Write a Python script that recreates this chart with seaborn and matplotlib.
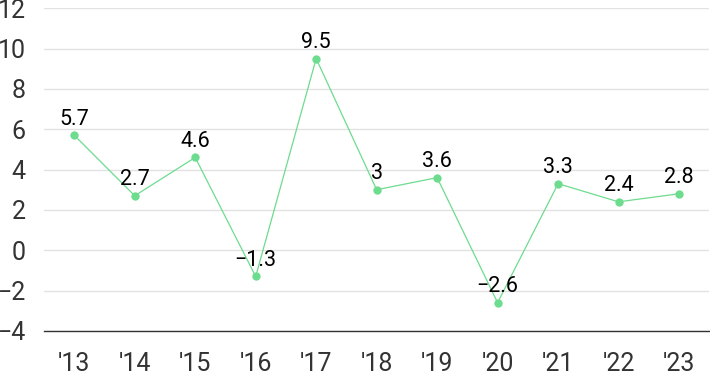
import matplotlib
matplotlib.use('Agg')
import matplotlib.pyplot as plt
import seaborn as sns
import pandas as pd

# data
years = ["'13", "'14", "'15", "'16", "'17", "'18", "'19", "'20", "'21", "'22", "'23"]
values = [5.7, 2.7, 4.6, -1.3, 9.5, 3.0, 3.6, -2.6, 3.3, 2.4, 2.8]
labels = ['5.7', '2.7', '4.6', '-1.3', '9.5', '3', '3.6', '-2.6', '3.3', '2.4', '2.8']

df = pd.DataFrame({'year': years, 'value': values})
df['pos'] = range(len(df))

sns.set_style('white')
plt.rcParams['font.family'] = ['Roboto', 'DejaVu Sans']
plt.rcParams['axes.unicode_minus'] = True

green = '#6ddc8f'

fig = plt.figure(figsize=(7.1, 3.71), dpi=100)
ax = fig.add_axes([0.062, 0.108, 0.937, 0.870])

sns.lineplot(data=df, x='pos', y='value', ax=ax, color=green, linewidth=0.9,
             marker='o', markersize=6, markeredgewidth=0, markerfacecolor=green)

for x, y, t in zip(df['pos'], df['value'], labels):
    ax.annotate(t.replace('-', '\u2212'), (x, y), xytext=(0, 4), textcoords='offset points',
                ha='center', va='bottom', fontsize=15.5, color='#000000')

ax.set_xlim(-0.5, 10.5)
ax.set_ylim(-4, 12)
ax.set_yticks(range(-4, 13, 2))
ax.set_xticks(df['pos'])
ax.set_xticklabels(years)
ax.yaxis.grid(True, color='#e2e2e2', linewidth=1)
ax.set_axisbelow(True)
for s in ['top', 'right', 'left']:
    ax.spines[s].set_visible(False)
ax.spines['bottom'].set_color('#333333')
ax.spines['bottom'].set_linewidth(1)
ax.tick_params(axis='both', length=0, labelsize=18, labelcolor='#333333')
ax.tick_params(axis='x', pad=15)
ax.tick_params(axis='y', pad=13)
ax.set_xlabel('')
ax.set_ylabel('')

fig.savefig('out.png', dpi=100)
